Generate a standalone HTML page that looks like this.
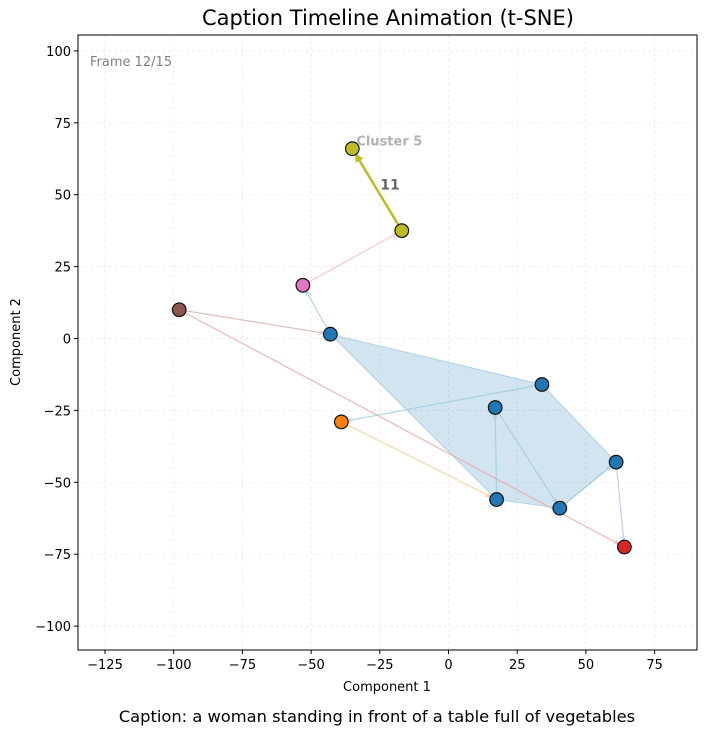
<!DOCTYPE html>
<html><head><meta charset="utf-8"><style>
body{margin:0;background:#fff;font-family:"DejaVu Sans","Liberation Sans",sans-serif}
</style></head><body>
<svg width="707" height="736" xmlns="http://www.w3.org/2000/svg" font-family="DejaVu Sans, Liberation Sans, sans-serif">
<defs>
<marker id="ah" viewBox="0 0 10 10" refX="9" refY="5" markerWidth="4" markerHeight="4" orient="auto"><path d="M0,0L10,5L0,10" fill="none" stroke="context-stroke" stroke-width="1.5"/></marker>
<marker id="ahb" viewBox="0 0 10 10" refX="8" refY="5" markerWidth="3.5" markerHeight="3.5" orient="auto"><path d="M0,0L10,5L0,10z" fill="#bcbd22"/></marker>
</defs>
<text x="388" y="25" text-anchor="middle" font-size="21" fill="#000">Caption Timeline Animation (t-SNE)</text>
<g id="grid"></g>
<g id="hull"></g>
<g id="links"></g>
<g id="pts"></g>
<g id="ticks"></g>
<rect x="78" y="35" width="619" height="615" fill="none" stroke="#000" stroke-width="1"/>
<text x="90" y="66" font-size="13" fill="#808080">Frame 12/15</text>
<text x="387" y="691" text-anchor="middle" font-size="13">Component 1</text>
<text x="20" y="342" text-anchor="middle" font-size="13" transform="rotate(-90 20 342)">Component 2</text>
<text x="377" y="722" text-anchor="middle" font-size="16.3">Caption: a woman standing in front of a table full of vegetables</text>
</svg>
<script>
const xTicks=[-125,-100,-75,-50,-25,0,25,50,75];
const yTicks=[-100,-75,-50,-25,0,25,50,75,100];
const pointX=[-35,-17,-53,-98,-43,34,17,61,17.5,40.5,-39,64];
const pointY=[66,37.5,18.5,10,1.5,-16,-24,-43,-56,-59,-29,-72.5];
const pointColor=["#bcbd22","#bcbd22","#e377c2","#8c564b","#1f77b4","#1f77b4","#1f77b4","#1f77b4","#1f77b4","#1f77b4","#ff7f0e","#d62728"];
const linkFrom=[2,4,3,3,10,5,8,6,9,7];
const linkTo=[1,2,4,11,8,10,6,9,7,11];
const linkColor=["#f7b6d2","#9ecae1","#d4b0aa","#eba5a5","#ffc590","#9ecae1","#9ecae1","#9ecae1","#9ecae1","#aec7e8"];
const hullIdx=[4,5,7,9,8];
const X=v=>448.5+v*2.748, Y=v=>338.5-v*2.876;
const NS="http://www.w3.org/2000/svg";
function mk(t,a,p){const e=document.createElementNS(NS,t);for(const k in a)e.setAttribute(k,a[k]);p.appendChild(e);return e;}
const fmt=t=>t<0?'\u2212'+(-t):String(t);
const grid=document.getElementById('grid'),ticks=document.getElementById('ticks');
xTicks.forEach(t=>{const x=X(t);
 const g=mk('line',{x1:x,x2:x,y1:35,y2:650,stroke:'#e6e6e6','stroke-dasharray':'3,3','stroke-width':0.7},grid);
 
 mk('line',{x1:x,x2:x,y1:650,y2:654,stroke:'#000'},ticks);
 const l=mk('text',{x:x,y:669,'text-anchor':'middle','font-size':13},ticks);l.textContent=fmt(t);
 });
yTicks.forEach(t=>{const y=Y(t);
 const g=mk('line',{x1:78,x2:697,y1:y,y2:y,stroke:'#e6e6e6','stroke-dasharray':'3,3','stroke-width':0.7},grid);
 
 mk('line',{x1:74,x2:78,y1:y,y2:y,stroke:'#000'},ticks);
 const l=mk('text',{x:71,y:y+5,'text-anchor':'end','font-size':13},ticks);l.textContent=fmt(t);
 });
const hp=mk('polygon',{points:hullIdx.map(i=>X(pointX[i])+','+Y(pointY[i])).join(' '),fill:'#1f77b4','fill-opacity':0.2,stroke:'#1f77b4','stroke-opacity':0.25},document.getElementById('hull'));

const links=document.getElementById('links');
linkFrom.forEach((f,i)=>{const t=linkTo[i];const x1=X(pointX[f]),y1=Y(pointY[f]),x2=X(pointX[t]),y2=Y(pointY[t]);
 const d=Math.hypot(x2-x1,y2-y1),s=7/d;
 const l=mk('line',{x1:x1,y1:y1,x2:x2-(x2-x1)*s,y2:y2-(y2-y1)*s,stroke:linkColor[i],'stroke-width':1.2,'stroke-opacity':0.8,'marker-end':'url(#ah)'},links);
 });
{const x1=X(pointX[1]),y1=Y(pointY[1]),x2=X(pointX[0]),y2=Y(pointY[0]);const d=Math.hypot(x2-x1,y2-y1),s=7/d;
 const a=mk('line',{x1:x1,y1:y1,x2:x2-(x2-x1)*s,y2:y2-(y2-y1)*s,stroke:'#bcbd22','stroke-width':2.5,'marker-end':'url(#ahb)'},links);
 
 const lt=mk('text',{x:(x1+x2)/2+13,y:(y1+y2)/2,'text-anchor':'middle','font-size':14,'font-weight':'bold',fill:'#666'},links);lt.textContent='11';
 
 const ct=mk('text',{x:x2+4,y:y2-3,'font-size':13,'font-weight':'bold',fill:'#b3b3b3'},links);ct.textContent='Cluster 5';
 }
const pts=document.getElementById('pts');
pointX.forEach((v,i)=>{const c=mk('circle',{cx:X(v),cy:Y(pointY[i]),r:6.8,fill:pointColor[i],stroke:'#111','stroke-width':1.2},pts);
 });
</script>
</body></html>
